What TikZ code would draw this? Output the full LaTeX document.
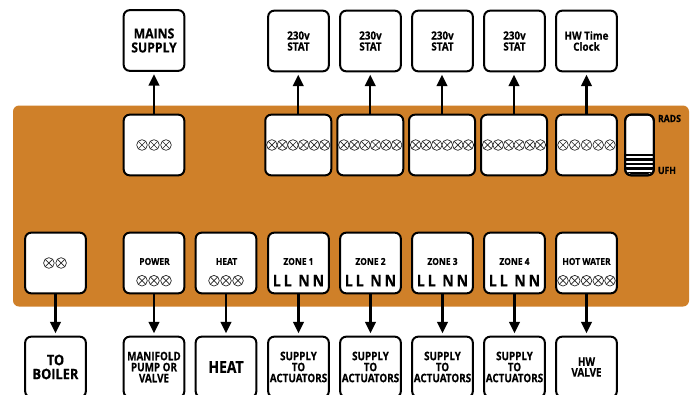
\documentclass[tikz,border=0pt]{standalone}
\usepackage{fontspec}
\setmainfont{Open Sans}[BoldFont={Open Sans Bold},BoldFeatures={FakeBold=0.35,FakeStretch=0.88}]
\newfontfamily\narrowf{Open Sans}[BoldFont={Open Sans Bold},BoldFeatures={FakeBold=0.35,FakeStretch=0.84}]
\usetikzlibrary{arrows.meta}
\definecolor{panelc}{HTML}{CF8029}
\tikzset{
  x=0.75pt,y=-0.75pt,
  panel/.style={fill=panelc,rounded corners=4.5pt,draw=none},
  bx/.style={draw=black,fill=white,line width=1.5pt,rounded corners=4.5pt,inner sep=0pt,outer sep=0pt,
    minimum width=45.5pt,minimum height=45.5pt,align=center,font=\bfseries},
  wide/.style={minimum width=49.5pt},
  term/.style={circle,draw=black!85,line width=.5pt,fill=white,inner sep=0pt,outer sep=0pt,minimum size=8pt,
    path picture={\draw[black!85,line width=.5pt] (path picture bounding box.north west)--(path picture bounding box.south east)
      (path picture bounding box.north east)--(path picture bounding box.south west);}},
  lab/.style={inner sep=0pt,outer sep=0pt,font=\bfseries,align=center},
  conn/.style={-{Triangle[width=8pt,length=8.5pt]},line width=1.6pt,shorten >=2.6pt}
}
\newcommand{\termrow}[5]{% name, cx, y, n, spacing
  \foreach \k in {1,...,#4}{
    \node[term] (#1\k) at ({#2+(\k-(#4+1)/2)*#5},#3) {};
  }}
\begin{document}
\begin{tikzpicture}
\useasboundingbox (0,0) rectangle (694,394);
\clip (0,0) rectangle (694,394);
\fill[panel] (13,105.5) rectangle (689,306.5);
% top row
\node[bx,font=\bfseries\fontsize{10.4}{10.5}\selectfont] (tm) at (154,40.5) {MAINS\\SUPPLY};
\foreach \n/\x in {a/298.5,b/370.5,c/442.5,d/514.5}
  \node[bx,font=\bfseries\fontsize{8.4}{8.25}\selectfont] (t\n) at (\x,41) {230v\\STAT};
\node[bx,font=\bfseries\fontsize{8.4}{8.25}\selectfont] (th) at (586.5,41) {HW Time\\Clock};
% middle row
\node[bx] (mm) at (154,145) {};
\foreach \n/\x in {a/298.25,b/370.25,c/442,d/514}
  \node[bx,wide] (m\n) at (\x,145) {};
\node[bx] (mh) at (586.5,145) {};
\termrow{mmt}{154}{145}{3}{12}
\foreach \n/\x in {a/298.25,b/370.25,c/442,d/514}
  {\termrow{m\n t}{\x}{145}{6}{10.55}}
\termrow{mht}{586.5}{145}{5}{11.75}
% switch
\node[bx,minimum width=21.5pt] (sw) at (639.5,145) {};
\begin{scope}
  \clip[rounded corners=4pt] (626,115.5) rectangle (653,174);
  \foreach \y in {155,159.5,164,168.5,173}
    \draw[line width=1.6pt] (625,\y) -- (654,\y);
\end{scope}
\draw[line width=1.5pt,rounded corners=4.5pt] (sw.north west) rectangle (sw.south east);
\node[lab,anchor=west,font=\bfseries\fontsize{7.4}{8}\selectfont] (rads) at (658,118.5) {RADS};
\node[lab,anchor=west,font=\bfseries\fontsize{7.4}{8}\selectfont] (ufh) at (658,170.5) {UFH};
% lower row
\node[bx] (b0) at (55.5,263) {};
\termrow{bt0}{55}{263}{2}{12.2}
\node[bx] (bp) at (154,263) {};
\node[lab,font=\bfseries\fontsize{7.2}{8}\selectfont] (bpl) at (154.5,261.5) {POWER};
\termrow{bpt}{154}{280.7}{3}{12}
\node[bx] (bh) at (226,263) {};
\node[lab,font=\bfseries\fontsize{7.2}{8}\selectfont] (bhl) at (226.5,261.5) {HEAT};
\termrow{bht}{226}{280.7}{3}{12}
\foreach \n/\x/\z in {a/298.5/1,b/370.5/2,c/442.5/3,d/514.5/4}{
  \node[bx] (b\n) at (\x,263) {};
  \node[lab,font=\bfseries\fontsize{7.2}{8}\selectfont] (b\n l) at (\x,261.5) {ZONE \z};
  \node[lab,font=\bfseries\fontsize{12}{12}\selectfont] (b\n t) at (\x,280.7) {L\hspace{-.5pt} L\hspace{2.2pt} N\hspace{-.5pt} N};
}
\node[bx] (bw) at (586.5,263) {};
\node[lab,font=\bfseries\fontsize{7.2}{8}\selectfont] (bwl) at (586.5,261.5) {HOT WATER};
\termrow{bwt}{586.5}{280.7}{5}{11.75}
% bottom row
\node[bx,font=\bfseries\fontsize{10.9}{10.5}\selectfont] (l0) at (55.5,367) {TO\\BOILER};
\node[bx,font=\narrowf\bfseries\fontsize{8.8}{8.25}\selectfont] (lp) at (154,367) {MANIFOLD\\PUMP OR\\VALVE};
\node[bx,font=\narrowf\bfseries\fontsize{12.4}{12}\selectfont] (lh) at (226,367) {HEAT};
\foreach \n/\x in {a/298.5,b/370.5,c/442.5,d/514.5}
  \node[bx,font=\narrowf\bfseries\fontsize{8.8}{8.25}\selectfont] (l\n) at (\x,367) {SUPPLY\\TO\\ACTUATORS};
\node[bx,font=\narrowf\bfseries\fontsize{8.8}{8}\selectfont] (lw) at (586.5,367) {HW\\VALVE};
% connectors
\foreach \n in {m,a,b,c,d,h}
  \draw[conn] (m\n.north) -- (m\n.north |- t\n.south);
\foreach \n in {0,p,h,a,b,c,d,w}
  \draw[conn] (b\n.south) -- (l\n.north);
\end{tikzpicture}
\end{document}
